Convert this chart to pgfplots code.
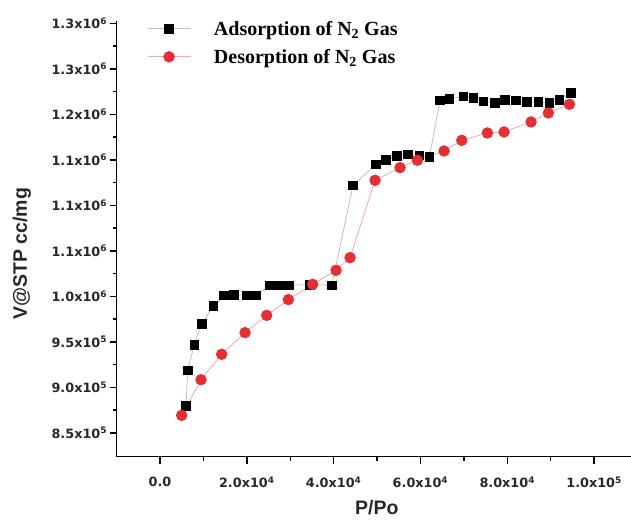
\documentclass[border=0pt]{standalone}
\usepackage{fontspec}
\setmainfont{Liberation Sans}
\newfontfamily\tickfont{DejaVu Sans}
\newfontfamily\legfont{Liberation Serif}
\usepackage{pgfplots}
\pgfplotsset{compat=1.18}
\usetikzlibrary{calc}

\definecolor{desred}{RGB}{228,47,52}
\definecolor{adsline}{RGB}{190,190,190}
\definecolor{desline}{RGB}{245,165,175}
\definecolor{ticktxt}{RGB}{40,40,40}

\pgfplotstableread{
x y
5990 879400
6380 918700
7900 946900
9600 970000
12300 989300
14800 1001100
17050 1001900
19980 1001000
22100 1001100
25200 1012100
27400 1012100
29600 1012100
34560 1012900
39560 1012100
44470 1121900
49700 1145000
52070 1150200
54540 1154200
57070 1156000
59750 1154900
62050 1153100
64520 1215400
66660 1217300
69890 1219800
72200 1218400
74500 1214300
77190 1212900
79490 1216200
82030 1215400
84490 1213500
87170 1213500
89700 1212400
92000 1216200
94630 1223900
}\adsorption

\pgfplotstableread{
x y
5000 869200
9450 908400
14200 936300
19590 960100
24580 979100
29570 996400
35180 1013200
40550 1028600
43780 1042500
49540 1127500
55300 1141400
59290 1149500
65440 1159700
69520 1171400
75420 1179500
79260 1180600
85480 1191600
89470 1201500
94310 1211000
}\desorption

\begin{document}
\begin{tikzpicture}
\begin{axis}[
  name=ax,
  scale only axis,
  width=514.4pt, height=435pt,
  xmin=-10000, xmax=108500,
  ymin=824000, ymax=1302000,
  scaled ticks=false,
  axis x line*=bottom, axis y line*=left,
  axis line style={line width=1.6pt, -},
  tick align=outside,
  major tick length=7pt, minor tick length=4pt,
  every tick/.style={line width=1.4pt, black},
  xtick={0,20000,40000,60000,80000,100000},
  xticklabels={0.0, 2.0x10\textsuperscript{4}, 4.0x10\textsuperscript{4}, 6.0x10\textsuperscript{4}, 8.0x10\textsuperscript{4}, 1.0x10\textsuperscript{5}},
  minor xtick={10000,30000,50000,70000,90000},
  ytick={850000,900000,950000,1000000,1050000,1100000,1150000,1200000,1250000,1300000},
  yticklabels={8.5x10\textsuperscript{5}, 9.0x10\textsuperscript{5}, 9.5x10\textsuperscript{5}, 1.0x10\textsuperscript{6}, 1.1x10\textsuperscript{6}, 1.1x10\textsuperscript{6}, 1.1x10\textsuperscript{6}, 1.2x10\textsuperscript{6}, 1.3x10\textsuperscript{6}, 1.3x10\textsuperscript{6}},
  minor ytick={875000,925000,975000,1025000,1075000,1125000,1175000,1225000,1275000},
  ticklabel style={font=\tickfont\bfseries\fontsize{12.8}{14}\selectfont, text=ticktxt},
  xticklabel style={yshift=-10pt},
  yticklabel style={xshift=1pt},
  xlabel={P/Po},
  ylabel={V@STP cc/mg},
  label style={font=\bfseries\fontsize{19.5}{22}\selectfont, text=ticktxt},
  xlabel style={at={(axis description cs:0.506,-0.118)}, anchor=center},
  ylabel style={at={(axis description cs:-0.184,0.466)}, anchor=center},
  legend style={at={(axis description cs:0.059,1.0)}, anchor=north west,
    draw=none, fill=none, inner sep=0pt, row sep=14pt,
    font=\legfont\bfseries\fontsize{20}{22}\selectfont,
    nodes={inner sep=0pt, text depth=0pt}},
  legend cell align=left,
  legend image code/.code={
    \draw[mark repeat=2, mark phase=2, #1] plot coordinates {(0pt,0pt) (21.5pt,0pt) (43pt,0pt)};
  },
  /tikz/every even column/.append style={column sep=0pt},
]
\addplot[color=adsline, line width=0.8pt, mark=square*,
  mark options={solid, fill=black, draw=black}, mark size=4.4pt]
  table[x=x, y=y] {\adsorption};
\addlegendentry{\hspace{23pt}Adsorption of N\textsubscript{2} Gas}
\addplot[color=desline, line width=0.8pt, mark=*,
  mark options={solid, fill=desred, draw=desred}, mark size=5.3pt]
  table[x=x, y=y] {\desorption};
\addlegendentry{\hspace{23pt}Desorption of N\textsubscript{2} Gas}
\end{axis}
\pgfresetboundingbox
\path ([shift={(-116.6pt,-63.5pt)}]ax.south west) rectangle ([shift={(514.4pt,456.5pt)}]ax.south west);
\end{tikzpicture}
\end{document}
